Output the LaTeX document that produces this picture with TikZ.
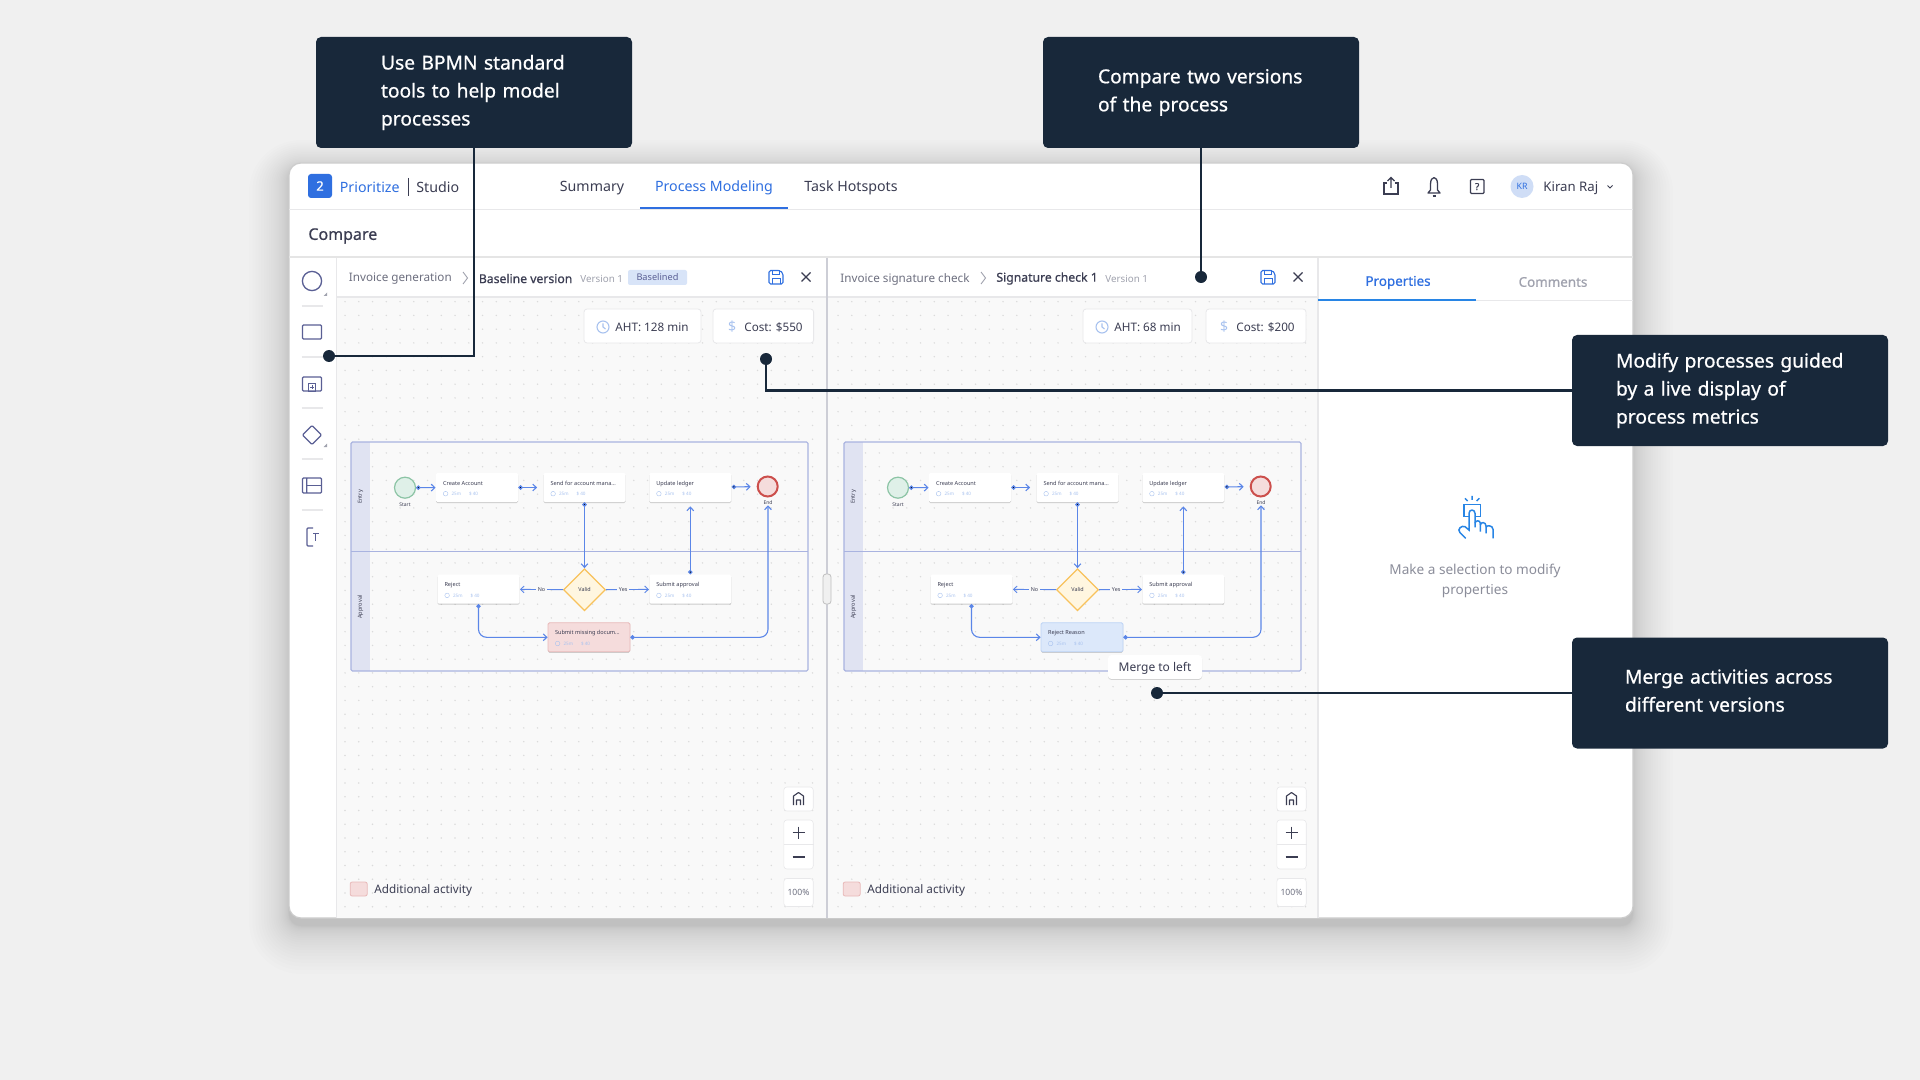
\documentclass[tikz,border=0pt]{standalone}
\usepackage{fontspec}
\usetikzlibrary{arrows.meta, positioning, shadows, shapes.geometric}
\setmainfont{Noto Sans}
\newfontfamily\medfont[FakeBold=0.7]{Noto Sans}
\definecolor{pagegray}{HTML}{F0F0F0}
\definecolor{calloutnavy}{HTML}{18283A}
\definecolor{inkdark}{HTML}{3B3D52}
\definecolor{inkgray}{HTML}{6E7080}
\definecolor{inkpale}{HTML}{A0A2AE}
\definecolor{brandblue}{HTML}{2F6FE0}
\definecolor{flowblue}{HTML}{5B86E8}
\definecolor{metablue}{HTML}{A8C2EF}
\definecolor{toolindigo}{HTML}{5A5F94}
\definecolor{laneline}{HTML}{A9B3E0}
\definecolor{laneband}{HTML}{E0E3F2}
\definecolor{panelgray}{HTML}{F9F9F9}
\definecolor{ruleline}{HTML}{E8E8EA}
\definecolor{splitline}{HTML}{CDCED6}
\definecolor{pinkfill}{HTML}{F5DCDC}
\definecolor{pinkline}{HTML}{E8B9B9}
\definecolor{skyfill}{HTML}{DCE8FA}
\definecolor{skyline}{HTML}{BCD3F5}
\definecolor{goldfill}{HTML}{FFF6E0}
\definecolor{goldline}{HTML}{F8C25C}
\definecolor{mintfill}{HTML}{DFF0E8}
\definecolor{mintline}{HTML}{8CC4A5}
\definecolor{endline}{HTML}{CC4F4C}
\tikzset{
  calloutbox/.style={fill=calloutnavy, rounded corners=2.5pt, text=white, text width=158pt, minimum height=55.5pt, inner sep=0pt, font=\medfont\fontsize{9.6}{14}\selectfont,
    execute at begin node={\leftskip=#1\rightskip=0pt plus 1fil\relax}},
  calldot/.style={circle, fill=calloutnavy, minimum size=6pt, inner sep=0pt},
  callline/.style={draw=calloutnavy, line width=1.3pt},
  plaintext/.style={inner sep=0pt, text=inkdark, anchor=west, font=\fontsize{6}{7.4}\selectfont},
  headtext/.style={inner sep=0pt, text=inkdark, font=\fontsize{7.1}{8.6}\selectfont},
  pillbox/.style={fill=white, draw=ruleline, line width=.4pt, rounded corners=1.5pt, minimum height=17pt, inner sep=0pt},
  ctrlbox/.style={fill=white, draw=ruleline, line width=.3pt, rounded corners=1.5pt, minimum width=14.7pt, inner sep=0pt},
  toolicon/.style={draw=toolindigo, line width=.65pt},
  cardbox/.style={fill=white, rounded corners=.7pt, minimum width=41pt, minimum height=14.5pt, inner sep=0pt,
    drop shadow={shadow xshift=0pt, shadow yshift=-.5pt, opacity=.18, fill=black}},
  cardtitle/.style={inner sep=0pt, anchor=west, text=inkdark, font=\fontsize{2.8}{3.3}\selectfont},
  cardmeta/.style={inner sep=0pt, anchor=west, text=metablue, font=\fontsize{2.3}{2.8}\selectfont},
  smalltext/.style={inner sep=0pt, text=inkdark, font=\fontsize{2.5}{3}\selectfont},
  lanetext/.style={inner sep=0pt, text=inkdark, rotate=90, font=\fontsize{2.8}{3.3}\selectfont},
  gateway/.style={diamond, aspect=1, fill=goldfill, draw=goldline, line width=.6pt, minimum size=21pt, inner sep=0pt, text=inkdark, font=\fontsize{2.7}{3.2}\selectfont},
  startev/.style={circle, fill=mintfill, draw=mintline, line width=.6pt, minimum size=10.5pt, inner sep=0pt},
  endev/.style={circle, fill=pinkfill, draw=endline, line width=1pt, minimum size=10pt, inner sep=0pt},
  flowline/.style={draw=flowblue, line width=.55pt, {Circle[length=2.2pt]}-{Straight Barb[length=1.8pt,width=3.4pt]}},
  flowbare/.style={draw=flowblue, line width=.45pt, -{Straight Barb[length=1.8pt,width=3.4pt]}},
  flowlabel/.style={fill=panelgray, inner xsep=1pt, inner ysep=.5pt, text=inkdark, font=\fontsize{2.7}{3.2}\selectfont},
  merged/.style={fill=pinkfill, draw=pinkline, line width=.4pt},
  changed/.style={fill=skyfill, draw=skyline, line width=.4pt},
  griddot/.style={fill=black!14},
}
\newcommand\cardinfo[2]{%
  \node[cardtitle] (#1title) at ([xshift=3.5pt,yshift=1.9pt]#1.west) {#2};
  \draw[draw=metablue, line width=.2pt] ([xshift=5pt,yshift=-3.1pt]#1.west) circle (1.15pt);
  \node[cardmeta] (#1time) at ([xshift=7.8pt,yshift=-3.1pt]#1.west) {25m};
  \node[cardmeta] (#1cost) at ([xshift=16.5pt,yshift=-3.1pt]#1.west) {\$ 40};
}
\newcommand\pinktext{Submit missing docum...}
\newcommand\bluetext{Reject Reason}
\begin{document}
\begin{tikzpicture}[x=.5pt, y=-.5pt]
  \useasboundingbox (0,0) rectangle (1920,1080);
  \fill[pagegray] (0,0) rectangle (1920,1080);
  % window and its soft shadow
  \foreach \s [evaluate=\s as \ee using 40*(\s/24)^2, evaluate=\s as \rr using 6+\ee*.5] in {24,...,1}
    \fill[black, opacity=.008, rounded corners=\rr pt] (289-\ee,163-\ee*.7+5) rectangle (1633+\ee,918+\ee*1.2+8);
  \fill[white, draw=black!20, line width=.6pt, rounded corners=6pt] (289,163) rectangle (1633,918);

  % the two canvases
  \fill[panelgray] (336.5,297) rectangle (827,917.5);
  \fill[panelgray] (827,297) rectangle (1318,917.5);
  \draw[ruleline, line width=.6pt] (289,209.5) -- (1633,209.5);
  \draw[black!10, line width=1pt] (289,257.5) -- (1633,257.5);
  \draw[ruleline, line width=.6pt] (336.5,297) -- (1318,297);
  \draw[ruleline, line width=.6pt] (336.5,258) -- (336.5,917.5);
  \draw[ruleline, line width=.6pt] (1318,258) -- (1318,917.5);
  \draw[splitline, line width=.7pt] (827,258) -- (827,917.5);

  % top bar
  \node[fill=brandblue, rounded corners=1.5pt, minimum size=12pt, inner sep=0pt, text=white, font=\medfont\fontsize{6.5}{8}\selectfont] (logo) at (320,186) {2};
  \node[headtext, text=brandblue, anchor=west] (brand) at (339.5,187) {Prioritize};
  \draw[inkdark, line width=.4pt] (408,178) -- (408,196);
  \node[headtext, anchor=west] (studio) at (416,187) {Studio};
  \node[headtext] (tabsummary) at (592,188) {Summary};
  \node[headtext, text=brandblue] (tabmodel) at (714,188) {Process Modeling};
  \node[headtext] (tabhot) at (851,188) {Task Hotspots};
  \draw[brandblue, line width=1.3pt] (640,208) -- (788,208);
  \node[inner sep=0pt, text=inkdark, anchor=west, font=\medfont\fontsize{8}{9.6}\selectfont] (comparetitle) at (308,236) {Compare};
  % share, bell, help
  \begin{scope}[draw=inkdark, line width=.65pt]
    \draw (1387,183) -- (1384,183) -- (1384,194) -- (1398,194) -- (1398,183) -- (1395,183);
    \draw (1391,188) -- (1391,178) (1387.5,181) -- (1391,177.5) -- (1394.5,181);
    \draw[line join=round] (1428,193) -- (1430.5,190) -- (1430.5,184) .. controls (1430.5,175.5) and (1437.5,175.5) .. (1437.5,184) -- (1437.5,190) -- (1440,193) -- cycle;
    \draw (1432.5,196) -- (1435.5,196);
    \draw[rounded corners=.5pt] (1470.5,179.5) rectangle (1484,193.5);
  \end{scope}
  \node[inner sep=0pt, text=inkdark, font=\medfont\fontsize{4.8}{6}\selectfont] (helpmark) at (1477.2,186.6) {?};
  \node[circle, fill=metablue!55!white, minimum size=11.5pt, inner sep=0pt, text=brandblue, font=\fontsize{4.4}{5.2}\selectfont] (avatar) at (1522,186.5) {KR};
  \node[headtext, anchor=west, font=\fontsize{6.6}{8}\selectfont] (username) at (1543,188) {Kiran Raj};
  \draw[inkdark, line width=.4pt] (1607.5,185.5) -- (1610,188) -- (1612.5,185.5);

  % tool strip
  \foreach \y in {306,357,408,459,510}
    \draw[ruleline, line width=.8pt] (301.5,\y) -- (323,\y);
  \draw[toolicon] (312,281) circle (4.8pt);
  \fill[inkpale] (327,292.5) -- (327,296) -- (323.5,296) -- cycle;
  \draw[toolicon, rounded corners=.5pt] (302.5,325) rectangle (321.5,339);
  \draw[toolicon, rounded corners=.5pt] (302.5,377) rectangle (321.5,391);
  \draw[toolicon, line width=.4pt] (308.5,383) rectangle (315.5,391) (310,387) -- (314,387) (312,385) -- (312,389);
  \draw[toolicon, rounded corners=.5pt] (312,425.5) -- (321.5,435) -- (312,444.5) -- (302.5,435) -- cycle;
  \fill[inkpale] (327,443.5) -- (327,447) -- (323.5,447) -- cycle;
  \draw[toolicon, rounded corners=.5pt] (302.5,478) rectangle (321.5,493) (306.8,478) -- (306.8,493);
  \draw[toolicon, line width=.5pt] (306.8,485.5) -- (321.5,485.5);
  \draw[toolicon, line width=.6pt, rounded corners=.5pt] (313,528) -- (307,528) -- (307,546) -- (313,546);
  \draw[toolicon, line width=.45pt] (313,533.5) -- (318.5,533.5) (315.8,533.5) -- (315.8,540.5);

  % both canvases share one layout
  \foreach \pfx/\off/\laststyle/\lasttext in {l-/0/merged/\pinktext, r-/493/changed/\bluetext} {
    \begin{scope}[xshift=\off*.5pt, name prefix=\pfx]
      \fill[griddot] \foreach \i in {0,...,34} { \foreach \j in {0,...,44} { (345+\i*13.75,301.7+\j*13.75) circle (.4pt) } };
      % swim lanes
      \fill[laneband] (351,442) rectangle (370,671);
      \draw[laneline, line width=.6pt, rounded corners=.7pt] (351,442) rectangle (808,671);
      \draw[laneline, line width=.6pt] (351,551.5) -- (808,551.5);
      \node[lanetext] (laneentry) at (360.5,497) {Entry};
      \node[lanetext] (laneappr) at (360.5,607) {Approval};
      % activities
      \node[startev] (startnode) at (405,487.7) {};
      \node[smalltext] (startlabel) at (405,505) {Start};
      \node[cardbox] (createbox) at (477,487.5) {};
      \node[cardbox] (sendbox) at (584.5,487.5) {};
      \node[cardbox] (updatebox) at (690.3,487.5) {};
      \node[endev] (endnode) at (767.7,486.5) {};
      \node[smalltext] (endlabel) at (768,503) {End};
      \node[cardbox] (rejectbox) at (478.5,589.2) {};
      \node[gateway] (validnode) at (584.5,589.7) {Valid};
      \node[cardbox] (submitbox) at (690.3,589.2) {};
      \node[cardbox, \laststyle] (lastbox) at (589,637.3) {};
      \cardinfo{createbox}{Create Account}
      \cardinfo{sendbox}{Send for account mana...}
      \cardinfo{updatebox}{Update ledger}
      \cardinfo{rejectbox}{Reject}
      \cardinfo{submitbox}{Submit approval}
      \cardinfo{lastbox}{\lasttext}
      % flows
      \path[flowline]
        (startnode) edge (createbox)
        (createbox) edge [shorten >=3pt] (sendbox)
        (updatebox) edge [shorten >=3pt] (endnode)
        (sendbox) edge (validnode)
        (submitbox) edge [shorten >=2pt] (updatebox);
      \path[flowbare]
        (validnode) edge node [flowlabel] (nolabel) {No} (rejectbox)
        (validnode) edge node [flowlabel, pos=.4] (yeslabel) {Yes} (submitbox);
      \draw[flowline, rounded corners=4pt] (rejectbox.south) |- (lastbox.west);
      \draw[flowline, rounded corners=4pt] (lastbox.east) -| (endlabel.south);
      % zoom controls and legend
      \node[ctrlbox, minimum height=12pt] (homebtn) at (798.5,799) {};
      \draw[draw=inkdark, line width=.55pt, line join=round] (793.5,805) -- (793.5,796) -- (798.5,792.5) -- (803.5,796) -- (803.5,805) (796.5,805) -- (796.5,800) -- (800.5,800) -- (800.5,805);
      \node[ctrlbox, minimum height=24.5pt] (zoombtn) at (798.5,844.5) {};
      \draw[ruleline, line width=.4pt] (zoombtn.west) -- (zoombtn.east);
      \draw[draw=inkdark, line width=.6pt] (792.5,832.5) -- (804.5,832.5) (798.5,826.5) -- (798.5,838.5) (792.5,857) -- (804.5,857);
      \node[ctrlbox, minimum height=14pt, text=inkgray, font=\fontsize{4.3}{5}\selectfont] (zoomlevel) at (798.5,892.5) {100\%};
      \node[fill=pinkfill, draw=pinkline, line width=.4pt, rounded corners=1pt, minimum width=8.5pt, minimum height=7pt, inner sep=0pt] (legendbox) at (358.7,889) {};
      \node[plaintext, font=\fontsize{5.85}{7.2}\selectfont] (legendtext) at (374,890) {Additional activity};
    \end{scope}
  }
  \draw[black!25, fill=pagegray, line width=.4pt, rounded corners=1.5pt] (823,574) rectangle (831,604);

  % left canvas header
  \node[plaintext, text=inkgray, font=\fontsize{5.85}{7.2}\selectfont] (leftproc) at (348.5,279) {Invoice generation};
  \draw[inkpale, line width=.45pt] (463,272) -- (467.5,278) -- (463,284);
  \node[plaintext, font=\medfont\fontsize{6.1}{7.4}\selectfont] (leftver) at (478.5,278.5) {Baseline version};
  \node[plaintext, text=inkpale, font=\fontsize{4.9}{5.8}\selectfont] (leftnum) at (580,279) {Version 1};
  \node[fill=metablue!45!white, rounded corners=1pt, minimum width=29.5pt, minimum height=7.5pt, inner sep=0pt, text=toolindigo, font=\fontsize{4.6}{5.6}\selectfont] (badge) at (657.5,277.5) {Baselined};
  % right canvas header
  \node[plaintext, text=inkgray, font=\fontsize{5.85}{7.2}\selectfont] (rightproc) at (840,279) {Invoice signature check};
  \draw[inkpale, line width=.45pt] (981,272) -- (985.5,278) -- (981,284);
  \node[plaintext, font=\medfont\fontsize{6.1}{7.4}\selectfont] (rightver) at (996,278.5) {Signature check 1};
  \node[plaintext, text=inkpale, font=\fontsize{4.9}{5.8}\selectfont] (rightnum) at (1105,279) {Version 1};
  % save and close
  \foreach \sx/\cx in {776/806, 1268/1298} {
    \draw[brandblue, line width=.55pt, rounded corners=.8pt] (\sx-7,270.5) -- (\sx+4,270.5) -- (\sx+7,273.5) -- (\sx+7,284) -- (\sx-7,284) -- cycle;
    \draw[brandblue, line width=.5pt] (\sx-3.5,270.5) -- (\sx-3.5,274.5) -- (\sx+3,274.5) -- (\sx+3,270.5) (\sx-4,284) -- (\sx-4,278.5) -- (\sx+4,278.5) -- (\sx+4,284);
    \draw[inkdark, line width=.65pt] (\cx-4.5,272.5) -- (\cx+4.5,281.5) (\cx+4.5,272.5) -- (\cx-4.5,281.5);
  }
  % metric pills
  \node[pillbox, minimum width=58.5pt] (leftaht) at (642.5,326) {};
  \node[pillbox, minimum width=50.3pt] (leftcost) at (763.3,326) {};
  \node[pillbox, minimum width=54.5pt] (rightaht) at (1137.5,326) {};
  \node[pillbox, minimum width=50pt] (rightcost) at (1256,326) {};
  \foreach \kx in {603, 1102} {
    \draw[metablue, line width=.55pt] (\kx,327) circle (3pt) (\kx,323.5) -- (\kx,327) -- (\kx+2.5,329);
  }
  \node[plaintext, font=\fontsize{5.85}{7.2}\selectfont] (leftahttext) at (615,327) {AHT: 128 min};
  \node[plaintext, font=\fontsize{5.85}{7.2}\selectfont] (leftcosttext) at (744,327) {Cost: \$550};
  \node[plaintext, font=\fontsize{5.85}{7.2}\selectfont] (rightahttext) at (1114,327) {AHT: 68 min};
  \node[plaintext, font=\fontsize{5.85}{7.2}\selectfont] (rightcosttext) at (1236,327) {Cost: \$200};
  \node[plaintext, text=metablue, anchor=center, font=\fontsize{7}{8}\selectfont] (leftdollar) at (732,327) {\$};
  \node[plaintext, text=metablue, anchor=center, font=\fontsize{7}{8}\selectfont] (rightdollar) at (1224,327) {\$};

  % merge tip
  \node[fill=white, rounded corners=1.5pt, minimum width=47pt, minimum height=11.8pt, inner sep=0pt, text=inkdark, font=\fontsize{6}{7.4}\selectfont,
    drop shadow={shadow xshift=0pt, shadow yshift=-.5pt, opacity=.15, fill=black}] (mergetip) at (1155,667) {\raisebox{-2.2pt}[0pt][0pt]{Merge to left}};

  % properties side
  \node[inner sep=0pt, text=brandblue, font=\medfont\fontsize{6.7}{8}\selectfont] (tabprops) at (1398,282.5) {Properties};
  \node[inner sep=0pt, text=inkpale, font=\medfont\fontsize{6.7}{8}\selectfont] (tabcomments) at (1553,282) {Comments};
  \draw[ruleline, line width=.5pt] (1476,300.5) -- (1633,300.5);
  \draw[brandblue!85!cyan, line width=.9pt] (1318,300) -- (1476,300);
  \begin{scope}[shift={(1320,470)}, scale=.3333, draw=brandblue!85!cyan, line width=.75pt]
    \draw (456,78) -- (456,90) (435,85) -- (443,93) (478,85) -- (470,93);
    \draw (447,140) -- (432,140) -- (432,103) -- (482,103) -- (482,140) -- (465,140);
    \draw (465,172) -- (465,130) .. controls (465,117) and (447,117) .. (447,130) -- (447,180) -- (435,170) .. controls (425,165) and (410,178) .. (420,188) -- (437,205);
    \draw (465,160) .. controls (465,150) and (481,150) .. (481,160) -- (481,185);
    \draw (481,165) .. controls (481,155) and (498,155) .. (498,168) -- (498,190);
    \draw (498,172) .. controls (498,165) and (519,165) .. (519,178) -- (519,205);
  \end{scope}
  \node[inner sep=0pt, text=inkgray!80!white, align=center, font=\fontsize{6.8}{9.7}\selectfont] (hinttext) at (1475,581) {Make a selection to modify\\properties};

  % callouts
  \node[calloutbox=32.5pt] (calltools) at (474,92.5) {Use BPMN standard\\tools to help model\\processes};
  \node[calloutbox=27.5pt] (callcompare) at (1201,92.5) {Compare two versions\\of the process};
  \node[calloutbox=22pt] (callmodify) at (1730,390.5) {Modify processes guided\\by a live display of\\process metrics};
  \node[calloutbox=26.5pt] (callmerge) at (1730,693) {Merge activities across\\different versions\par\vspace{2.4pt}};
  \node[calldot] (dottools) at (329,356) {};
  \node[calldot] (dotcompare) at (1201,277) {};
  \node[calldot] (dotmodify) at (766,359) {};
  \node[calldot] (dotmerge) at (1157,693) {};
  \draw[callline] (calltools.south) |- (dottools);
  \draw[callline] (callcompare.south) -- (dotcompare);
  \draw[callline] (callmodify.west) -| (dotmodify);
  \draw[callline] (callmerge.west) -- (dotmerge);
\end{tikzpicture}
\end{document}
